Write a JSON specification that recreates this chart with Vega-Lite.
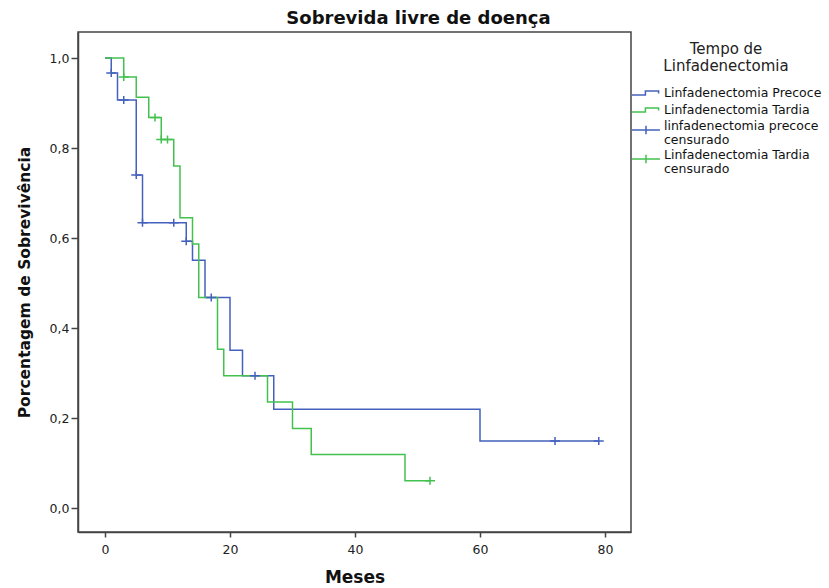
{
  "$schema": "https://vega.github.io/schema/vega-lite/v6.json",
  "width": 553,
  "height": 500,
  "autosize": {"type": "none"},
  "padding": {"left": 78, "top": 32, "right": 198, "bottom": 56},
  "background": "white",
  "title": {"text": "Sobrevida livre de doença", "font": "DejaVu Sans", "fontSize": 18, "fontWeight": "bold", "color": "#111111", "anchor": "middle", "frame": "group", "dx": 64, "offset": 4},
  "datasets": {
    "steps": [
      {"serie": "Linfadenectomia Precoce", "t": 0, "s": 1.0},
      {"serie": "Linfadenectomia Precoce", "t": 1, "s": 0.967},
      {"serie": "Linfadenectomia Precoce", "t": 2, "s": 0.907},
      {"serie": "Linfadenectomia Precoce", "t": 5, "s": 0.74},
      {"serie": "Linfadenectomia Precoce", "t": 6, "s": 0.634},
      {"serie": "Linfadenectomia Precoce", "t": 13, "s": 0.593},
      {"serie": "Linfadenectomia Precoce", "t": 14, "s": 0.551},
      {"serie": "Linfadenectomia Precoce", "t": 16, "s": 0.468},
      {"serie": "Linfadenectomia Precoce", "t": 20, "s": 0.351},
      {"serie": "Linfadenectomia Precoce", "t": 22, "s": 0.294},
      {"serie": "Linfadenectomia Precoce", "t": 27, "s": 0.22},
      {"serie": "Linfadenectomia Precoce", "t": 60, "s": 0.149},
      {"serie": "Linfadenectomia Precoce", "t": 79, "s": 0.149},
      {"serie": "Linfadenectomia Tardia", "t": 0, "s": 1.0},
      {"serie": "Linfadenectomia Tardia", "t": 3, "s": 0.958},
      {"serie": "Linfadenectomia Tardia", "t": 5, "s": 0.913},
      {"serie": "Linfadenectomia Tardia", "t": 7, "s": 0.868},
      {"serie": "Linfadenectomia Tardia", "t": 9, "s": 0.819},
      {"serie": "Linfadenectomia Tardia", "t": 11, "s": 0.76},
      {"serie": "Linfadenectomia Tardia", "t": 12, "s": 0.645},
      {"serie": "Linfadenectomia Tardia", "t": 14, "s": 0.587},
      {"serie": "Linfadenectomia Tardia", "t": 15, "s": 0.468},
      {"serie": "Linfadenectomia Tardia", "t": 18, "s": 0.353},
      {"serie": "Linfadenectomia Tardia", "t": 19, "s": 0.294},
      {"serie": "Linfadenectomia Tardia", "t": 26, "s": 0.236},
      {"serie": "Linfadenectomia Tardia", "t": 30, "s": 0.177},
      {"serie": "Linfadenectomia Tardia", "t": 33, "s": 0.119},
      {"serie": "Linfadenectomia Tardia", "t": 48, "s": 0.061},
      {"serie": "Linfadenectomia Tardia", "t": 52, "s": 0.061}
    ],
    "censored": [
      {"serie": "linfadenectomia precoce censurado", "t": 1, "s": 0.967},
      {"serie": "linfadenectomia precoce censurado", "t": 3, "s": 0.907},
      {"serie": "linfadenectomia precoce censurado", "t": 5, "s": 0.74},
      {"serie": "linfadenectomia precoce censurado", "t": 6, "s": 0.634},
      {"serie": "linfadenectomia precoce censurado", "t": 11, "s": 0.634},
      {"serie": "linfadenectomia precoce censurado", "t": 13, "s": 0.593},
      {"serie": "linfadenectomia precoce censurado", "t": 17, "s": 0.468},
      {"serie": "linfadenectomia precoce censurado", "t": 24, "s": 0.294},
      {"serie": "linfadenectomia precoce censurado", "t": 72, "s": 0.149},
      {"serie": "linfadenectomia precoce censurado", "t": 79, "s": 0.149},
      {"serie": "Linfadenectomia Tardia censurado", "t": 3, "s": 0.958},
      {"serie": "Linfadenectomia Tardia censurado", "t": 8, "s": 0.868},
      {"serie": "Linfadenectomia Tardia censurado", "t": 9, "s": 0.819},
      {"serie": "Linfadenectomia Tardia censurado", "t": 10, "s": 0.819},
      {"serie": "Linfadenectomia Tardia censurado", "t": 52, "s": 0.061}
    ]
  },
  "layer": [
    {
      "data": {"name": "steps"},
      "mark": {"type": "line", "interpolate": "step-after", "strokeWidth": 1.5},
      "encoding": {
        "x": {"field": "t", "type": "quantitative"},
        "y": {"field": "s", "type": "quantitative"},
        "color": {"field": "serie", "type": "nominal"}
      }
    },
    {
      "data": {"name": "censored"},
      "mark": {"type": "point", "shape": "M-1,0H1M0,-0.8V0.8", "size": 100, "filled": false, "strokeWidth": 1.5, "opacity": 1},
      "encoding": {
        "x": {
          "field": "t", "type": "quantitative",
          "scale": {"domain": [-4.32, 84.16], "nice": false, "zero": false},
          "axis": {"values": [0, 20, 40, 60, 80], "title": "Meses", "grid": false, "tickSize": 5, "labelPadding": 6, "titleFontSize": 17, "titlePadding": 14}
        },
        "y": {
          "field": "s", "type": "quantitative",
          "scale": {"domain": [-0.053, 1.058], "nice": false, "zero": false},
          "axis": {"values": [0, 0.2, 0.4, 0.6, 0.8, 1.0], "title": "Porcentagem de Sobrevivência", "grid": false, "tickSize": 7, "labelPadding": 2, "titleFontSize": 15.5, "titlePadding": 17, "labelExpr": "replace(format(datum.value, '.1f'), '.', ',')"}
        },
        "color": {
          "field": "serie", "type": "nominal",
          "scale": {
            "domain": ["Linfadenectomia Precoce", "Linfadenectomia Tardia", "linfadenectomia precoce censurado", "Linfadenectomia Tardia censurado"],
            "range": ["#4461bd", "#43c14f", "#4461bd", "#43c14f"]
          },
          "legend": {
            "title": ["Tempo de", "Linfadenectomia"],
            "labelExpr": "datum.label == 'linfadenectomia precoce censurado' ? ['linfadenectomia precoce', 'censurado'] : datum.label == 'Linfadenectomia Tardia censurado' ? ['Linfadenectomia Tardia', 'censurado'] : datum.label",
            "encoding": {
              "symbols": {
                "shape": {"value": {"expr": "indexof(datum.value, 'censurado') >= 0 ? 'M-2.33,0H2.33M0,-0.7V0.7' : 'M-2.33,0.33H-0.1V-0.33H2.1V0.1'"}},
                "size": {"value": 144},
                "fill": {"value": "transparent"},
                "strokeWidth": {"value": 1.5},
                "opacity": {"value": 1}
              },
              "labels": {
                "lineHeight": {"value": 13.5},
                "dy": {"value": {"expr": "indexof(datum.value, 'censurado') >= 0 ? -4 : 0"}}
              }
            }
          }
        }
      }
    }
  ],
  "config": {
    "view": {"stroke": "#444444", "strokeWidth": 1.5},
    "axis": {
      "labelFont": "DejaVu Sans", "labelFontSize": 12.5, "labelColor": "#222222",
      "titleFont": "DejaVu Sans", "titleFontWeight": "bold", "titleColor": "#111111",
      "domainColor": "#444444", "domainWidth": 1.5, "tickColor": "#444444", "tickWidth": 1.5
    },
    "legend": {
      "orient": "right", "offset": -10, "padding": 10,
      "labelFont": "DejaVu Sans", "labelFontSize": 12.5, "labelColor": "#111111", "labelLimit": 300, "labelOffset": 11,
      "titleFont": "DejaVu Sans", "titleFontSize": 15, "titleFontWeight": "normal", "titleColor": "#222222",
      "titleAnchor": "middle", "titleAlign": "center", "titleLineHeight": 17, "titlePadding": 12,
      "symbolSize": 144, "symbolOffset": 8, "rowPadding": 3
    }
  }
}
